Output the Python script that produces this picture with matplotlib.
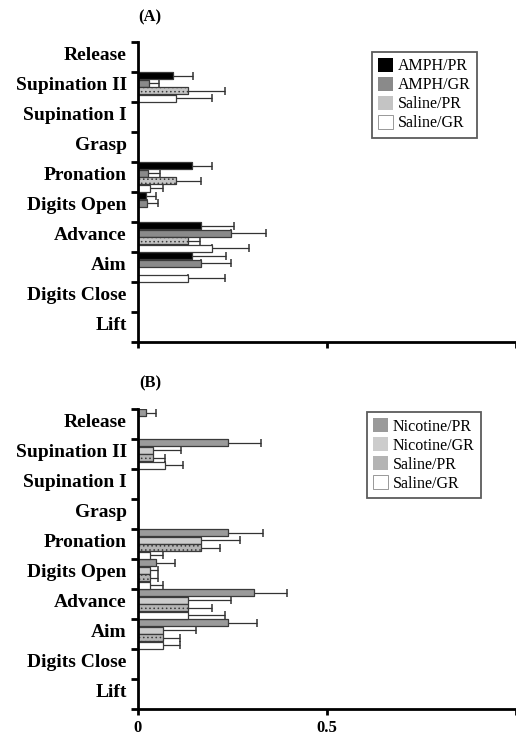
import numpy as np
import matplotlib.pyplot as plt
from matplotlib.patches import Patch

plt.rcParams['font.family'] = ['Liberation Serif', 'DejaVu Serif']
plt.rcParams['hatch.linewidth'] = 0.6

phases = ["Release", "Supination II", "Supination I", "Grasp", "Pronation",
          "Digits Open", "Advance", "Aim", "Digits Close", "Lift"]

# panel A: amphetamine
amph_labels = ["AMPH/PR", "AMPH/GR", "Saline/PR", "Saline/GR"]
amph_pr = [0, 0.092, 0, 0, 0.143, 0.022, 0.167, 0.143, 0, 0]
amph_pr_err = [0, 0.053, 0, 0, 0.054, 0.026, 0.087, 0.090, 0, 0]
amph_gr = [0, 0.030, 0, 0, 0.027, 0.024, 0.247, 0.167, 0, 0]
amph_gr_err = [0, 0.025, 0, 0, 0.031, 0.030, 0.091, 0.080, 0, 0]
salA_pr = [0, 0.132, 0, 0, 0.100, 0, 0.132, 0, 0, 0]
salA_pr_err = [0, 0.097, 0, 0, 0.067, 0, 0.031, 0, 0, 0]
salA_gr = [0, 0.100, 0, 0, 0.033, 0, 0.197, 0.132, 0, 0]
salA_gr_err = [0, 0.097, 0, 0, 0.033, 0, 0.097, 0.097, 0, 0]

# panel B: nicotine
nic_labels = ["Nicotine/PR", "Nicotine/GR", "Saline/PR", "Saline/GR"]
nic_pr = [0.022, 0.237, 0, 0, 0.237, 0.048, 0.307, 0.237, 0, 0]
nic_pr_err = [0.025, 0.088, 0, 0, 0.095, 0.049, 0.088, 0.079, 0, 0]
nic_gr = [0, 0.040, 0, 0, 0.167, 0.033, 0.132, 0.066, 0, 0]
nic_gr_err = [0, 0.074, 0, 0, 0.103, 0.020, 0.114, 0.088, 0, 0]
salB_pr = [0, 0.040, 0, 0, 0.167, 0.033, 0.132, 0.066, 0, 0]
salB_pr_err = [0, 0.032, 0, 0, 0.050, 0.020, 0.065, 0.044, 0, 0]
salB_gr = [0, 0.072, 0, 0, 0.031, 0.033, 0.132, 0.066, 0, 0]
salB_gr_err = [0, 0.046, 0, 0, 0.035, 0.033, 0.097, 0.044, 0, 0]

x_ticks = [0, 0.5, 1.0]
x_ticklabels = ["0", "0.5", ""]

styles_a = [dict(color="black", hatch=None),
            dict(color="#8a8a8a", hatch=None),
            dict(color="#c4c4c4", hatch="...."),
            dict(color="white", hatch=None)]
styles_b = [dict(color="#9a9a9a", hatch=None),
            dict(color="#cccccc", hatch=None),
            dict(color="#b4b4b4", hatch="...."),
            dict(color="white", hatch=None)]

fig = plt.figure(figsize=(5.16, 7.36), dpi=100)
ax_a = fig.add_axes([0.2674, 0.5353, 0.7326, 0.4076])
ax_b = fig.add_axes([0.2674, 0.0367, 0.7326, 0.4076])


def draw_panel(ax, series, errs, styles, labels, legend_anchor, show_xlabels):
    y = np.arange(len(phases))
    h = 0.25
    handles = []
    for k, (vals, err, st, lab) in enumerate(zip(series, errs, styles, labels)):
        yy = y - 0.375 + k * h
        ax.barh(yy, vals, height=h * 0.92, color=st["color"], hatch=st["hatch"],
                edgecolor="#3a3a3a", linewidth=0.9, zorder=2)
        vals = np.array(vals)
        err = np.array(err)
        m = err > 0
        ax.errorbar(vals[m], yy[m], xerr=[np.zeros(m.sum()), err[m]], fmt="none",
                    ecolor="#333333", elinewidth=0.9, capsize=3, capthick=1.1, zorder=1)
        handles.append(Patch(facecolor=st["color"], hatch=st["hatch"],
                             edgecolor="#888888" if st["color"] == "white" else "none",
                             linewidth=0.6, label=lab))

    ax.set_ylim(len(phases) - 0.5, -0.5)
    ax.set_xlim(0, 0.995)
    # labels sit a little above the middle of each slot, as in the original
    ax.set_yticks(y - 0.12)
    ax.set_yticklabels(phases, fontsize=14, fontweight="bold")
    ax.set_yticks(np.arange(len(phases) + 1) - 0.5, minor=True)
    ax.tick_params(axis="y", which="major", length=0, pad=8)
    ax.tick_params(axis="y", which="minor", length=5, width=2, direction="out")
    ax.set_xticks(x_ticks)
    ax.tick_params(axis="x", length=4, width=2, direction="out", pad=4)
    if show_xlabels:
        ax.set_xticklabels(x_ticklabels, fontsize=12, fontweight="bold")
    else:
        ax.set_xticklabels([])
    for side in ["top", "right"]:
        ax.spines[side].set_visible(False)
    for side in ["left", "bottom"]:
        ax.spines[side].set_linewidth(2)
    leg = ax.legend(handles=handles, loc="upper left", bbox_to_anchor=legend_anchor,
                    fontsize=11.5, frameon=True, fancybox=False, handlelength=0.9,
                    handleheight=0.9, handletextpad=0.3, labelspacing=0.18,
                    borderpad=0.4, borderaxespad=0)
    leg.get_frame().set_edgecolor("#333333")
    leg.get_frame().set_linewidth(1.3)


draw_panel(ax_a, [amph_pr, amph_gr, salA_pr, salA_gr],
           [amph_pr_err, amph_gr_err, salA_pr_err, salA_gr_err],
           styles_a, amph_labels, (0.619, 0.967), False)
draw_panel(ax_b, [nic_pr, nic_gr, salB_pr, salB_gr],
           [nic_pr_err, nic_gr_err, salB_pr_err, salB_gr_err],
           styles_b, nic_labels, (0.606, 0.99), True)

fig.text(0.291, 1 - 17 / 736, "(A)", fontsize=12, fontweight="bold", ha="center", va="center")
fig.text(0.291, 1 - 383 / 736, "(B)", fontsize=12, fontweight="bold", ha="center", va="center")

fig.savefig("out.png", dpi=100)
